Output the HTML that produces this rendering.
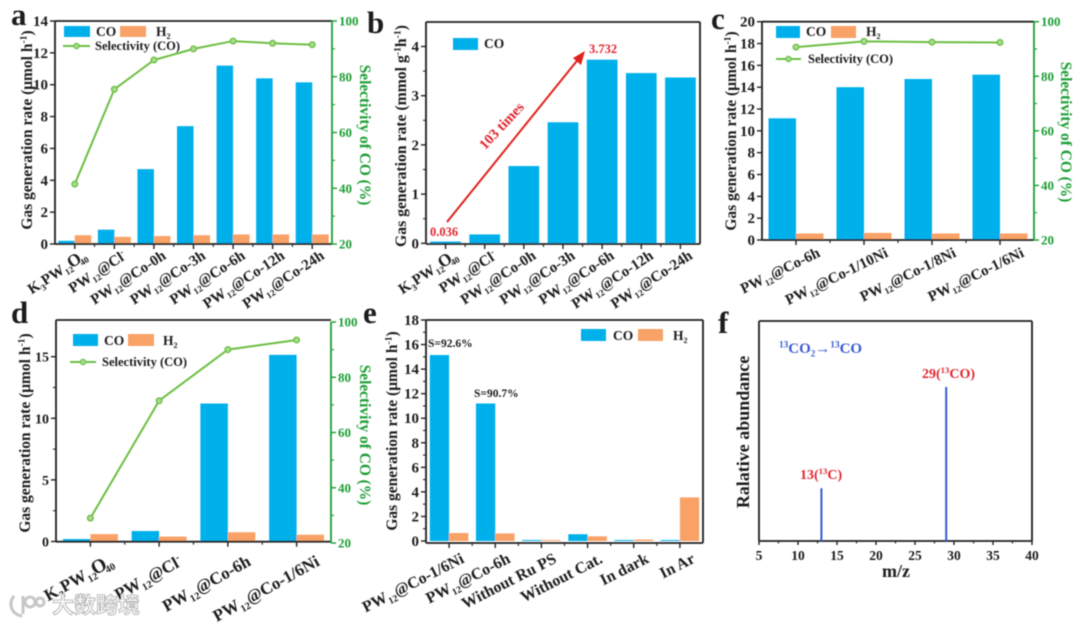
<!DOCTYPE html>
<html lang="en">
<head>
<meta charset="utf-8">
<title>Gas generation rate panels</title>
<style>
html,body{margin:0;padding:0;background:#fff;}
svg{display:block;}
text{font-family:"Liberation Serif","Noto Serif CJK SC",serif;font-weight:bold;}
</style>
</head>
<body>
<svg id="figure" xmlns="http://www.w3.org/2000/svg" width="1080" height="624" viewBox="0 0 1080 624">
<defs><filter id="soft" x="-2%" y="-2%" width="104%" height="104%"><feGaussianBlur stdDeviation="0.55"/></filter></defs>
<rect width="1080" height="624" fill="#fff"/>
<g id="root" filter="url(#soft)"></g>
</svg>
<script>
// ---------- data ----------
const catsA = ["K_{3}PW_{12}~{O}_{40}","PW_{12}@Cl^{-}","PW_{12}@Co-0h","PW_{12}@Co-3h","PW_{12}@Co-6h","PW_{12}@Co-12h","PW_{12}@Co-24h"];
const coA = [0.2,0.9,4.7,7.4,11.2,10.4,10.15];
const h2A = [0.55,0.45,0.5,0.55,0.6,0.6,0.6];
const selA = [41.5,75.5,86,90,92.8,92,91.5];
const ticksA = [0,2,4,6,8,10,12,14];

const catsB = catsA;
const coB = [0.036,0.18,1.57,2.46,3.732,3.46,3.37];
const ticksB = [0,1,2,3,4];

const catsC = ["PW_{12}@Co-6h","PW_{12}@Co-1/10Ni","PW_{12}@Co-1/8Ni","PW_{12}@Co-1/6Ni"];
const coC = [11.15,14,14.75,15.15];
const h2C = [0.6,0.65,0.6,0.6];
const selC = [90.7,92.8,92.5,92.4];
const ticksC = [0,2,4,6,8,10,12,14,16,18,20];

const catsD = ["K_{3}PW_{12}~{O}_{40}","PW_{12}@Cl^{-}","PW_{12}@Co-6h","PW_{12}@Co-1/6Ni"];
const coD = [0.2,0.85,11.2,15.15];
const h2D = [0.6,0.4,0.75,0.55];
const selD = [29,71.5,90,93.5];
const ticksD = [0,5,10,15];

const catsE = ["PW_{12}@Co-1/6Ni","PW_{12}@Co-6h","Without Ru PS","Without Cat.","In dark","In Ar"];
const coE = [15.15,11.2,0.08,0.55,0.08,0.08];
const h2E = [0.65,0.62,0.08,0.38,0.12,3.55];
const ticksE = [0,2,4,6,8,10,12,14,16,18];

const peaksMz = [13,29];
const peaksAbundance = [24,70];
const ticksF = [5,10,15,20,25,30,35,40];
const ticksSel = [20,40,60,80,100];

// ---------- colours ----------
const BLUE = "#00b0eb", ORANGE = "#f9a268", LINE = "#6cbf43", GREEN = "#1f9e34", INK = "#1c1c1c", RED = "#e0262f";
const NS = "http://www.w3.org/2000/svg";
const root = document.getElementById("root");

function mk(parent, tag, name, attrs) {
  const el = document.createElementNS(NS, tag);
  
  
  for (const k in attrs) el.setAttribute(k, attrs[k]);
  parent.appendChild(el);
  return el;
}

function label(parent, name, str, x, y, o) {
  o = o || {};
  const size = o.size || 15;
  const attrs = {x: x, y: y, "font-size": size, fill: o.fill || INK, "text-anchor": o.anchor || "start"};
  if (o.rotate) attrs.transform = "rotate(" + o.rotate + " " + x + " " + y + ")";
  const t = mk(parent, "text", name, attrs);
  let cur = 0, afterBig = false;
  str.split(/(_\{.*?\}|\^\{.*?\}|~\{.*?\})/).forEach(function (part) {
    if (!part) return;
    const ts = document.createElementNS(NS, "tspan");
    let off = 0, content = part, fs = size, dx = 0;
    if (part[0] === "_" && part[1] === "{") { off = size * 0.24; content = part.slice(2, -1); fs = size * 0.6; if (afterBig) dx = -size * 0.2; }
    else if (part[0] === "^" && part[1] === "{") { off = -size * 0.36; content = part.slice(2, -1); fs = size * 0.62; }
    else if (part[0] === "~" && part[1] === "{") { content = part.slice(2, -1); fs = size * 1.15; dx = -size * 0.12; }
    afterBig = part[0] === "~";
    ts.setAttribute("dy", (off - cur).toFixed(2));
    if (dx) ts.setAttribute("dx", dx.toFixed(2));
    ts.setAttribute("font-size", fs.toFixed(2));
    ts.textContent = content;
    cur = off;
    t.appendChild(ts);
  });
  return t;
}

function line(parent, name, x1, y1, x2, y2, stroke, w) {
  return mk(parent, "line", name, {x1: x1, y1: y1, x2: x2, y2: y2, stroke: stroke, "stroke-width": w});
}

// frame: left, right, top, bottom plus linear y scale (zero pixel + per-unit) and right-axis range
function panel(id, f) {
  const g = mk(root, "g", "panel-" + id, {});
  const yPx = function (v) { return f.zero - v * f.unit; };
  const n = f.cats.length;
  const step = (f.right - f.left) / n;
  const cx = function (i) { return f.left + step * (i + 0.5); };

  // bars
  const bars = mk(g, "g", "bars", {});
  if (f.co) f.co.forEach(function (v, i) {
    const xx = f.h2 ? cx(i) - f.barW : cx(i) - f.barW / 2;
    mk(bars, "rect", "bar-co-" + i, {x: xx, y: yPx(v), width: f.barW, height: Math.max(0, f.zero - yPx(v)), fill: BLUE});
  });
  if (f.h2) f.h2.forEach(function (v, i) {
    mk(bars, "rect", "bar-h2-" + i, {x: cx(i), y: yPx(v), width: f.barW, height: Math.max(0, f.zero - yPx(v)), fill: ORANGE});
  });

  // frame
  line(g, "top-spine", f.left, f.top, f.right, f.top, "#222", 1.8);
  line(g, "bottom-spine", f.left, f.bottom, f.right, f.bottom, "#222", 1.8);
  line(g, "left-spine", f.left, f.top, f.left, f.bottom, "#222", 1.8);
  line(g, "right-spine", f.right, f.sel ? f.rTop : f.top, f.right, f.sel ? f.rBottom : f.bottom, f.sel ? GREEN : "#222", 1.8);

  // left ticks
  f.ticks.forEach(function (v, i) {
    const y = yPx(v);
    line(g, "y-tick-" + v, f.left - 5, y, f.left, y, "#222", 1.4);
    label(g, "y-tick-label-" + v, String(v), f.left - 7, y + 5, {size: f.tickSize, anchor: "end"});
    if (f.minor && i < f.ticks.length - 1) {
      const m = yPx((v + f.ticks[i + 1]) / 2);
      line(g, "y-minor-tick", f.left - 3, m, f.left, m, "#222", 1.1);
    }
  });

  // category ticks + labels
  f.cats.forEach(function (c, i) {
    line(g, "x-tick-" + i, cx(i), f.bottom, cx(i), f.bottom + 5, "#222", 1.4);
    if (i < n - 1) line(g, "x-minor-tick", cx(i) + step / 2, f.bottom, cx(i) + step / 2, f.bottom + 3, "#222", 1.1);
    label(g, "x-category-label-" + i, c, cx(i) + f.lblDx, f.bottom + f.lblDy, {size: f.lblSize, anchor: "end", rotate: f.lblRot});
  });

  // selectivity axis and line
  if (f.sel) {
    const rPx = function (v) { return f.rBottom - (v - 20) * (f.rBottom - f.rTop) / 80; };
    ticksSel.forEach(function (v, i) {
      const y = rPx(v);
      line(g, "right-tick-" + v, f.right, y, f.right + 5, y, GREEN, 1.4);
      label(g, "right-tick-label-" + v, String(v), f.right + 7, y + 4.5, {size: 13, fill: GREEN});
      if (i < ticksSel.length - 1) {
        const m = rPx(v + 10);
        line(g, "right-minor-tick", f.right, m, f.right + 3, m, GREEN, 1.1);
      }
    });
    const pts = f.sel.map(function (v, i) { return cx(i) + "," + rPx(v); }).join(" ");
    mk(g, "polyline", "selectivity-line", {points: pts, fill: "none", stroke: LINE, "stroke-width": 2});
    f.sel.forEach(function (v, i) {
      mk(g, "circle", "selectivity-point-" + i, {cx: cx(i), cy: rPx(v), r: 2.8, fill: "#a9dc8e", stroke: LINE, "stroke-width": 1.4});
    });
  }
  return g;
}

function legendSwatch(parent, name, x, y, w, h, fill, text, tx, ty, size) {
  const g = mk(parent, "g", name, {});
  mk(g, "rect", name + "-swatch", {x: x, y: y, width: w, height: h, fill: fill});
  label(g, name + "-label", text, tx, ty, {size: size || 13.5});
}
function legendLine(parent, x1, x2, y, tx, ty) {
  const g = mk(parent, "g", "legend-selectivity", {});
  line(g, "legend-selectivity-line", x1, y, x2, y, LINE, 2);
  mk(g, "circle", "legend-selectivity-marker", {cx: (x1 + x2) / 2, cy: y, r: 2.6, fill: "#a9dc8e", stroke: LINE, "stroke-width": 1.3});
  label(g, "legend-selectivity-label", "Selectivity (CO)", tx, ty, {size: 12.5});
}

// ---------- panel a ----------
const pa = panel("a", {left: 55, right: 332, top: 21, bottom: 244, zero: 244, unit: 223 / 14, cats: catsA, co: coA, h2: h2A, sel: selA, barW: 16.5,
  ticks: ticksA, tickSize: 15, rTop: 21, rBottom: 244, lblDx: 13, lblDy: 14, lblSize: 15, lblRot: -33});
label(pa, "panel-letter-a", "a", 11, 25, {size: 31});
label(pa, "y-axis-title", "Gas generation rate (μmol h^{-1})", 32, 130, {size: 15.5, anchor: "middle", rotate: -90});
label(pa, "right-axis-title", "Selectivity of CO (%)", 360, 135, {size: 15.4, anchor: "middle", rotate: 90, fill: GREEN});
legendSwatch(pa, "legend-co", 64, 26, 26, 11, BLUE, "CO", 96, 36);
legendSwatch(pa, "legend-h2", 120, 26, 26, 11, ORANGE, "H_{2}", 156, 36);
legendLine(pa, 63, 90, 46, 95, 50);

// ---------- panel b ----------
const pb = panel("b", {left: 426, right: 700, top: 22, bottom: 244, zero: 243.3, unit: 49.2, cats: catsB, co: coB, barW: 30.7,
  ticks: ticksB, tickSize: 15, minor: true, lblDx: 13, lblDy: 14, lblSize: 15, lblRot: -33});
label(pb, "panel-letter-b", "b", 367, 33, {size: 31});
label(pb, "y-axis-title", "Gas generation rate (mmol g^{-1}h^{-1})", 406, 136, {size: 15.7, anchor: "middle", rotate: -90});
legendSwatch(pb, "legend-co", 453, 38, 25, 12, BLUE, "CO", 484, 48);
line(pb, "ratio-arrow-shaft", 447, 222, 580, 57, "#e0201f", 2);
mk(pb, "polygon", "ratio-arrow-head", {points: "585,51 573,58 581,65", fill: "#e0201f"});
label(pb, "value-label-low", "0.036", 444, 236, {size: 12.5, fill: RED, anchor: "middle"});
label(pb, "value-label-high", "3.732", 589, 53, {size: 12.5, fill: RED});
label(pb, "ratio-label", "103 times", 505, 129, {size: 14.5, fill: RED, anchor: "middle", rotate: -47});

// ---------- panel c ----------
const pc = panel("c", {left: 762, right: 1034, top: 21.7, bottom: 240, zero: 240, unit: 218.3 / 20, cats: catsC, co: coC, h2: h2C, sel: selC, barW: 27.5,
  ticks: ticksC, tickSize: 15, rTop: 21.7, rBottom: 240, lblDx: 25, lblDy: 16, lblSize: 15, lblRot: -26});
label(pc, "panel-letter-c", "c", 711, 29, {size: 31});
label(pc, "y-axis-title", "Gas generation rate (μmol h^{-1})", 736, 131, {size: 15.5, anchor: "middle", rotate: -90});
label(pc, "right-axis-title", "Selectivity of CO (%)", 1061, 132, {size: 15.4, anchor: "middle", rotate: 90, fill: GREEN});
legendSwatch(pc, "legend-co", 776, 26, 24, 12, BLUE, "CO", 806, 36);
legendSwatch(pc, "legend-h2", 831, 26, 25, 12, ORANGE, "H_{2}", 866, 36);
legendLine(pc, 776, 801, 59, 808, 63);

// ---------- panel d ----------
const pd = panel("d", {left: 56, right: 331, top: 320, bottom: 541.7, zero: 541.5, unit: 12.32, cats: catsD, co: coD, h2: h2D, sel: selD, barW: 27.5,
  ticks: ticksD, tickSize: 14, minor: true, rTop: 322, rBottom: 543, lblDx: 24, lblDy: 23, lblSize: 17, lblRot: -29});
label(pd, "panel-letter-d", "d", 11, 323, {size: 31});
label(pd, "y-axis-title", "Gas generation rate (μmol h^{-1})", 30, 433, {size: 15.5, anchor: "middle", rotate: -90});
label(pd, "right-axis-title", "Selectivity of CO (%)", 360, 435, {size: 15.4, anchor: "middle", rotate: 90, fill: GREEN});
legendSwatch(pd, "legend-co", 73, 334, 25, 12, BLUE, "CO", 104, 345);
legendSwatch(pd, "legend-h2", 128, 334, 26, 12, ORANGE, "H_{2}", 163, 345);
legendLine(pd, 70, 96, 362, 102, 366);

// ---------- panel e ----------
const pe = panel("e", {left: 426, right: 703, top: 320, bottom: 543, zero: 541, unit: 221 / 18, cats: catsE, co: coE, h2: h2E, barW: 19.3,
  ticks: ticksE, tickSize: 15, minor: true, lblDx: 16, lblDy: 19, lblSize: 16, lblRot: -27});
label(pe, "panel-letter-e", "e", 363, 323, {size: 31});
label(pe, "y-axis-title", "Gas generation rate (μmol h^{-1})", 397, 431, {size: 15.5, anchor: "middle", rotate: -90});
legendSwatch(pe, "legend-co", 581, 329, 25, 12, BLUE, "CO", 613, 340);
legendSwatch(pe, "legend-h2", 638, 329, 25, 12, ORANGE, "H_{2}", 673, 340);
label(pe, "selectivity-note-1", "S=92.6%", 428, 347, {size: 11.5});
label(pe, "selectivity-note-2", "S=90.7%", 474, 397, {size: 11.5});

// ---------- panel f ----------
const pf = mk(root, "g", "panel-f", {});
const fx = function (v) { return 759 + (v - 5) * (1032 - 759) / 35; };
const fy = function (v) { return 541 - v * 220 / 100; };
line(pf, "top-spine", 759, 321, 1032, 321, "#222", 1.8);
line(pf, "bottom-spine", 759, 541, 1032, 541, "#222", 1.8);
line(pf, "left-spine", 759, 321, 759, 541, "#222", 1.8);
line(pf, "right-spine", 1032, 321, 1032, 541, "#222", 1.8);
ticksF.forEach(function (v, i) {
  line(pf, "x-tick-" + v, fx(v), 541, fx(v), 545, "#222", 1.4);
  label(pf, "x-tick-label-" + v, String(v), fx(v), 560, {size: 13.5, anchor: "middle"});
  if (i < ticksF.length - 1) line(pf, "x-minor-tick", fx(v + 2.5), 541, fx(v + 2.5), 543.5, "#222", 1.1);
});
peaksMz.forEach(function (m, i) {
  line(pf, "peak-mz-" + m, fx(m), 541, fx(m), fy(peaksAbundance[i]), "#3558cf", 2);
});
label(pf, "panel-letter-f", "f", 718, 333, {size: 31});
label(pf, "y-axis-title", "Ralative abundance", 749, 432, {size: 18, anchor: "middle", rotate: -90});
label(pf, "x-axis-title", "m/z", 896, 577, {size: 18, anchor: "middle"});
label(pf, "reaction-label", "^{13}CO_{2}→^{13}CO", 779, 353, {size: 15, fill: "#3a5bd0"});
label(pf, "peak-label-29", "29(^{13}CO)", 922, 378, {size: 14, fill: RED});
label(pf, "peak-label-13", "13(^{13}C)", 800, 479, {size: 14, fill: RED});

// ---------- watermark ----------
const wm = mk(root, "g", "watermark", {opacity: 0.95});
mk(wm, "path", "watermark-logo", {d: "M14 596 A12 12 0 0 0 22 616 M23 596 L23 614 M30 597 a5 5 0 1 0 0.1 0 M40 598 a4 4 0 1 0 0.1 0", fill: "none", stroke: "#c4c4c4", "stroke-width": 3});
const wmText = label(wm, "watermark-text", "大数跨境", 52, 613, {size: 22, fill: "#f6f6f6"});
wmText.setAttribute("stroke", "#a8a8a8");
wmText.setAttribute("stroke-width", "0.8");
wmText.style.fontFamily = '"Noto Sans CJK SC","WenQuanYi Zen Hei",sans-serif';
</script>
</body>
</html>
